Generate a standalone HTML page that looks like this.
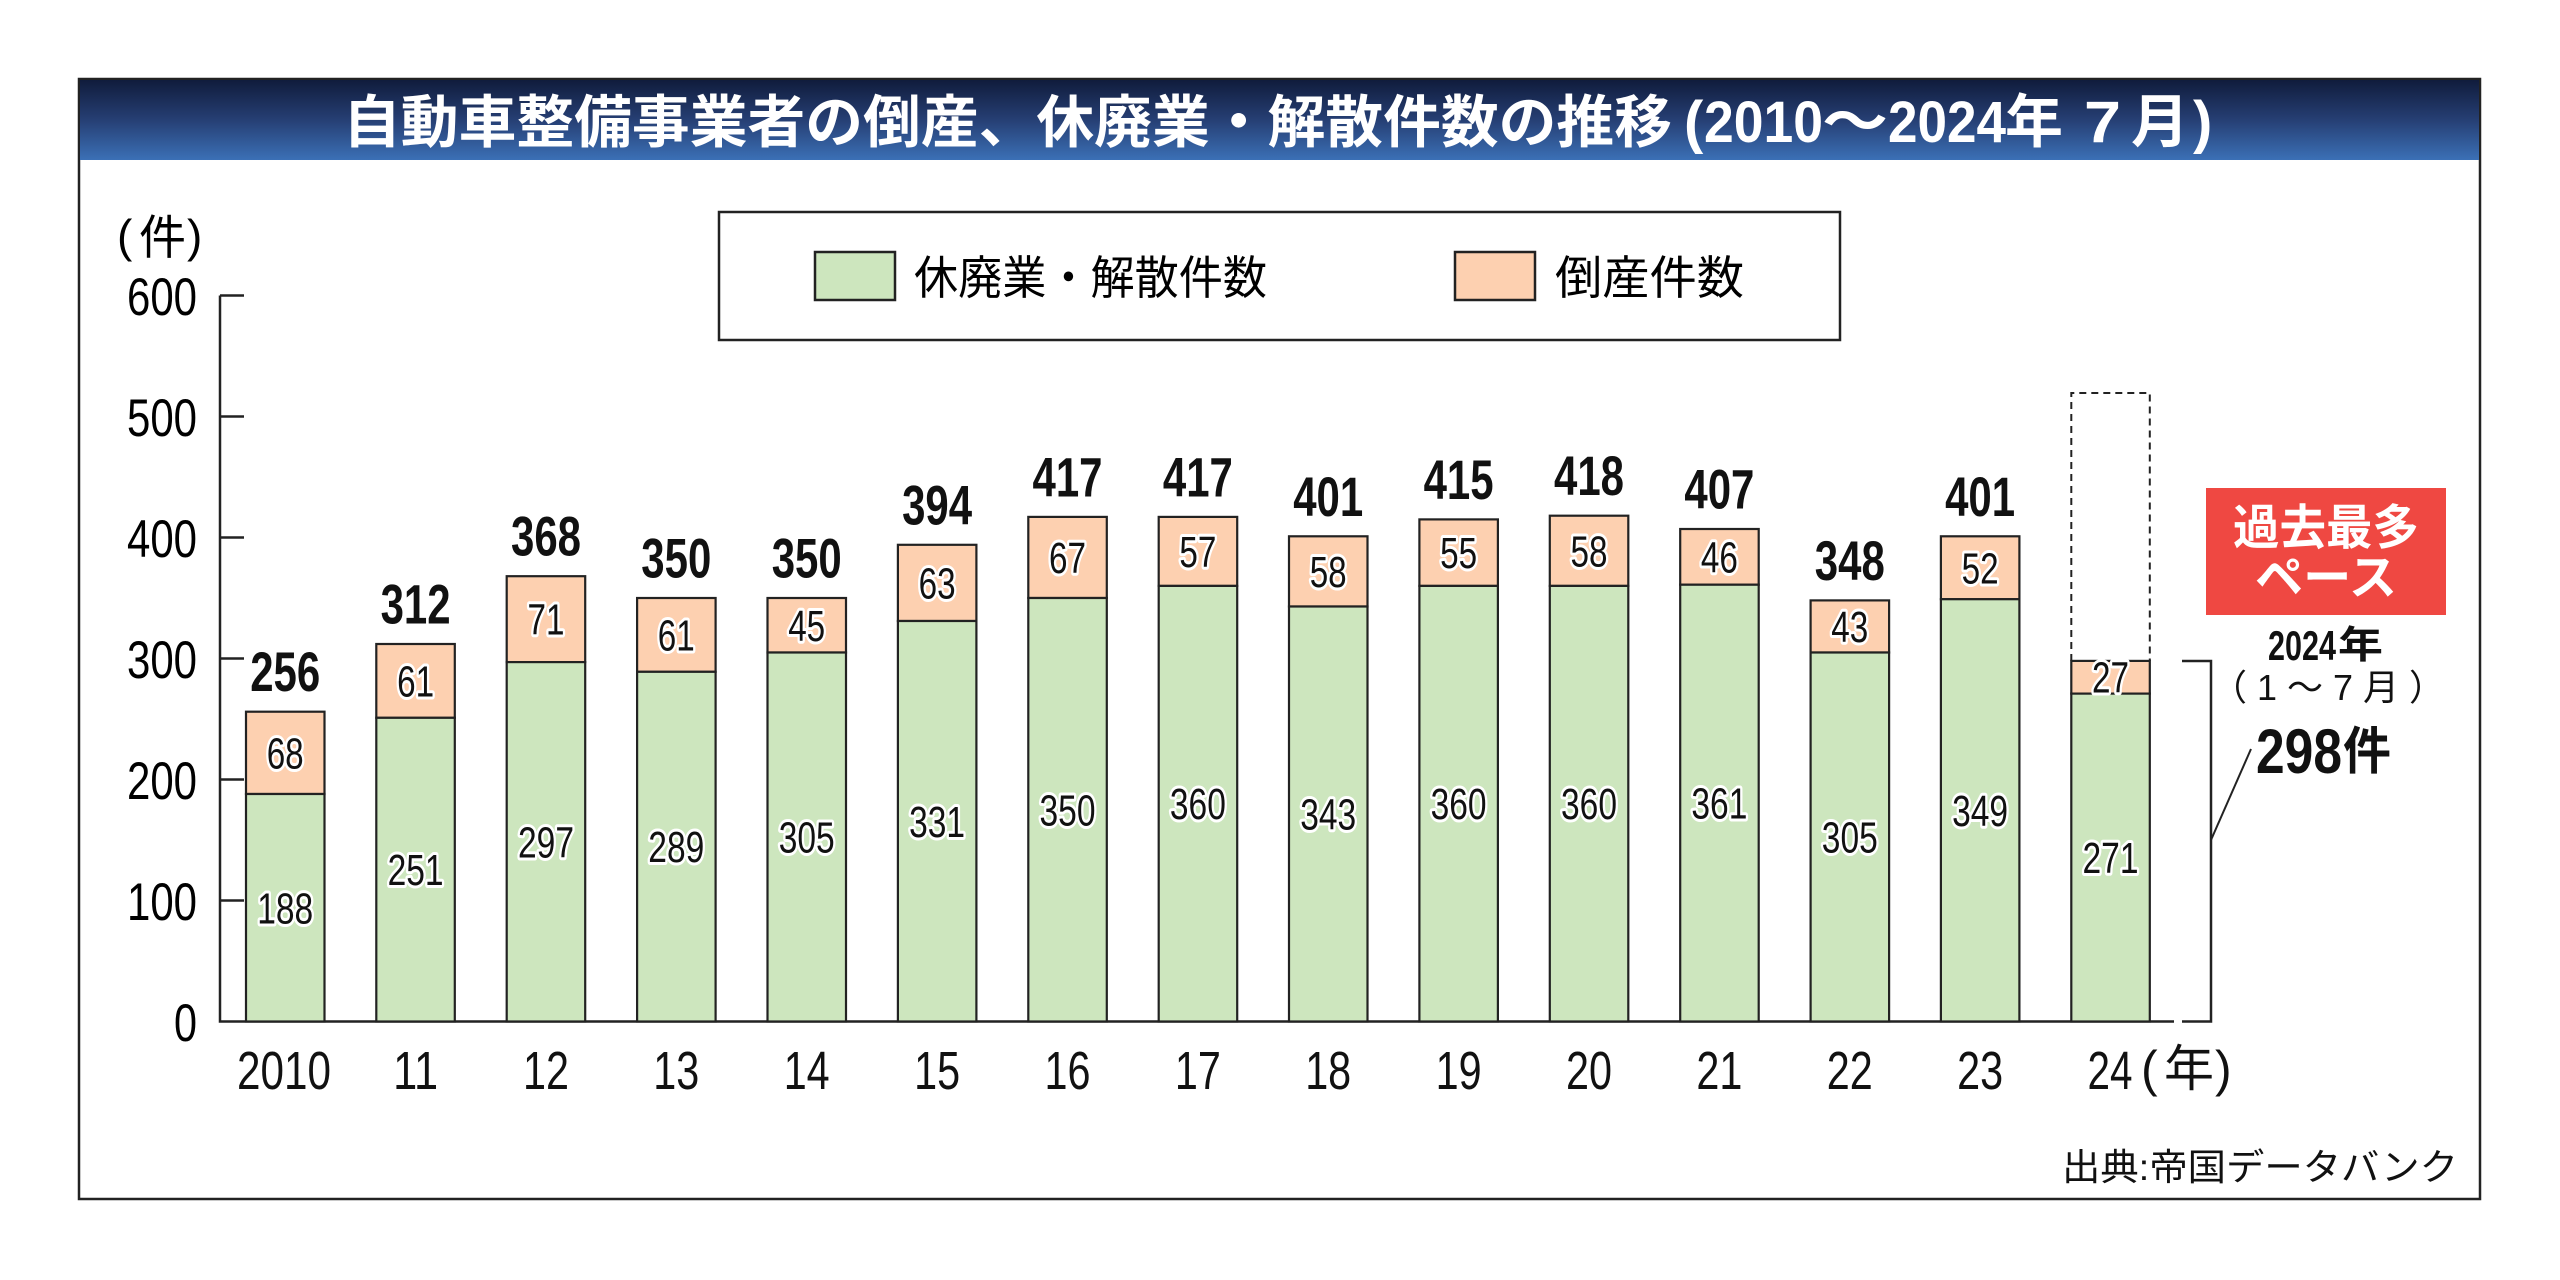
<!DOCTYPE html>
<html><head><meta charset="utf-8"><style>
html,body{margin:0;padding:0;background:#fff;}
svg{display:block;}
.num{font-family:"Liberation Sans",sans-serif;}
.jp{font-family:"Liberation Sans","Noto Sans CJK JP",sans-serif;}
</style></head><body>
<svg width="2560" height="1280" viewBox="0 0 2560 1280" xmlns="http://www.w3.org/2000/svg">
<defs>
<linearGradient id="tg" x1="0" y1="0" x2="0" y2="1">
<stop offset="0" stop-color="#101c3c"/>
<stop offset="0.5" stop-color="#263f74"/>
<stop offset="1" stop-color="#3b70b6"/>
</linearGradient>
</defs>
<rect width="2560" height="1280" fill="#fff"/>
<!-- frame -->
<rect x="79" y="79" width="2401" height="1120" fill="#fff" stroke="#222" stroke-width="2.5"/>
<rect x="80" y="80" width="2399" height="80" fill="url(#tg)"/>
<!-- title -->
<g fill="#fff" font-weight="bold">
<text class="jp" x="343" y="142" font-size="57" textLength="1329" lengthAdjust="spacingAndGlyphs">自動車整備事業者の倒産、休廃業・解散件数の推移</text>
<text class="num" x="1684" y="142" font-size="58" font-weight="bold">(</text>
<text class="num" x="1704" y="142" font-size="58" textLength="119" lengthAdjust="spacingAndGlyphs">2010</text>
<text class="jp" x="1822" y="142" font-size="58" textLength="66" lengthAdjust="spacingAndGlyphs">～</text>
<text class="num" x="1888" y="142" font-size="58" textLength="118" lengthAdjust="spacingAndGlyphs">2024</text>
<text class="jp" x="2005" y="142" font-size="58">年</text>
<text class="num" x="2084" y="142" font-size="58" textLength="37" lengthAdjust="spacingAndGlyphs">7</text>
<text class="jp" x="2131" y="142" font-size="58">月</text>
<text class="num" x="2193" y="142" font-size="58">)</text>
</g>
<!-- legend -->
<rect x="719" y="212" width="1121" height="128" fill="#fff" stroke="#222" stroke-width="2.5"/>
<rect x="815" y="252" width="80" height="48" fill="#cde6be" stroke="#222" stroke-width="2.5"/>
<rect x="1455" y="252" width="80" height="48" fill="#fdd0b0" stroke="#222" stroke-width="2.5"/>
<text class="jp" x="914" y="294" font-size="46" textLength="353" lengthAdjust="spacingAndGlyphs">休廃業・解散件数</text>
<text class="jp" x="1555" y="294" font-size="46" textLength="189" lengthAdjust="spacingAndGlyphs">倒産件数</text>
<!-- y unit -->
<text class="num" x="117" y="252" font-size="46">(</text>
<text class="jp" x="139" y="254" font-size="47">件</text>
<text class="num" x="187" y="252" font-size="46">)</text>
<!-- axes -->
<g stroke="#222" stroke-width="2.5" fill="none">
<path d="M220,295.5 V1021.5 H2174"/>
<path d="M220,295.5 H244 M220,416.5 H244 M220,537.5 H244 M220,658.5 H244 M220,779.5 H244 M220,900.5 H244"/>
<path d="M2182,661 H2211 V1021.5 H2182"/>
<path d="M2211,840 L2251,749" stroke-width="2"/>
</g>
<!-- y tick labels -->
<g class="num" font-size="53" text-anchor="end">
<text x="197" y="315" textLength="70" lengthAdjust="spacingAndGlyphs">600</text>
<text x="197" y="436" textLength="70" lengthAdjust="spacingAndGlyphs">500</text>
<text x="197" y="557" textLength="70" lengthAdjust="spacingAndGlyphs">400</text>
<text x="197" y="678" textLength="70" lengthAdjust="spacingAndGlyphs">300</text>
<text x="197" y="799" textLength="70" lengthAdjust="spacingAndGlyphs">200</text>
<text x="197" y="920" textLength="70" lengthAdjust="spacingAndGlyphs">100</text>
<text x="197" y="1041" textLength="23" lengthAdjust="spacingAndGlyphs">0</text>
</g>
<!-- dashed projection -->
<path d="M2071.3,661 V393 H2149.8 V661" fill="none" stroke="#222" stroke-width="2" stroke-dasharray="7 5"/>
<!-- bars -->
<g stroke="#222" stroke-width="2.2">
<rect x="246.0" y="711.7" width="78.5" height="82.3" fill="#fdd0b0"/><rect x="246.0" y="794.0" width="78.5" height="227.5" fill="#cde6be"/>
<rect x="376.3" y="644.0" width="78.5" height="73.8" fill="#fdd0b0"/><rect x="376.3" y="717.8" width="78.5" height="303.7" fill="#cde6be"/>
<rect x="506.7" y="576.2" width="78.5" height="85.9" fill="#fdd0b0"/><rect x="506.7" y="662.1" width="78.5" height="359.4" fill="#cde6be"/>
<rect x="637.1" y="598.0" width="78.5" height="73.8" fill="#fdd0b0"/><rect x="637.1" y="671.8" width="78.5" height="349.7" fill="#cde6be"/>
<rect x="767.5" y="598.0" width="78.5" height="54.5" fill="#fdd0b0"/><rect x="767.5" y="652.5" width="78.5" height="369.0" fill="#cde6be"/>
<rect x="897.9" y="544.8" width="78.5" height="76.2" fill="#fdd0b0"/><rect x="897.9" y="621.0" width="78.5" height="400.5" fill="#cde6be"/>
<rect x="1028.3" y="516.9" width="78.5" height="81.1" fill="#fdd0b0"/><rect x="1028.3" y="598.0" width="78.5" height="423.5" fill="#cde6be"/>
<rect x="1158.7" y="516.9" width="78.5" height="69.0" fill="#fdd0b0"/><rect x="1158.7" y="585.9" width="78.5" height="435.6" fill="#cde6be"/>
<rect x="1289.0" y="536.3" width="78.5" height="70.2" fill="#fdd0b0"/><rect x="1289.0" y="606.5" width="78.5" height="415.0" fill="#cde6be"/>
<rect x="1419.4" y="519.4" width="78.5" height="66.5" fill="#fdd0b0"/><rect x="1419.4" y="585.9" width="78.5" height="435.6" fill="#cde6be"/>
<rect x="1549.8" y="515.7" width="78.5" height="70.2" fill="#fdd0b0"/><rect x="1549.8" y="585.9" width="78.5" height="435.6" fill="#cde6be"/>
<rect x="1680.2" y="529.0" width="78.5" height="55.7" fill="#fdd0b0"/><rect x="1680.2" y="584.7" width="78.5" height="436.8" fill="#cde6be"/>
<rect x="1810.6" y="600.4" width="78.5" height="52.1" fill="#fdd0b0"/><rect x="1810.6" y="652.5" width="78.5" height="369.0" fill="#cde6be"/>
<rect x="1940.9" y="536.3" width="78.5" height="62.9" fill="#fdd0b0"/><rect x="1940.9" y="599.2" width="78.5" height="422.3" fill="#cde6be"/>
<rect x="2071.3" y="660.9" width="78.5" height="32.7" fill="#fdd0b0"/><rect x="2071.3" y="693.6" width="78.5" height="327.9" fill="#cde6be"/>
</g>
<!-- segment labels (halo) -->
<g class="num" font-size="44" text-anchor="middle" fill="#111" stroke="#fff" stroke-width="6" stroke-linejoin="round" paint-order="stroke">
<text x="285.2" y="923.3" textLength="56" lengthAdjust="spacingAndGlyphs">188</text>
<text x="415.6" y="885.2" textLength="56" lengthAdjust="spacingAndGlyphs">251</text>
<text x="546.0" y="857.3" textLength="56" lengthAdjust="spacingAndGlyphs">297</text>
<text x="676.3" y="862.2" textLength="56" lengthAdjust="spacingAndGlyphs">289</text>
<text x="806.7" y="852.5" textLength="56" lengthAdjust="spacingAndGlyphs">305</text>
<text x="937.1" y="836.8" textLength="56" lengthAdjust="spacingAndGlyphs">331</text>
<text x="1067.5" y="825.3" textLength="56" lengthAdjust="spacingAndGlyphs">350</text>
<text x="1197.9" y="819.2" textLength="56" lengthAdjust="spacingAndGlyphs">360</text>
<text x="1328.2" y="829.5" textLength="56" lengthAdjust="spacingAndGlyphs">343</text>
<text x="1458.6" y="819.2" textLength="56" lengthAdjust="spacingAndGlyphs">360</text>
<text x="1589.0" y="819.2" textLength="56" lengthAdjust="spacingAndGlyphs">360</text>
<text x="1719.4" y="818.6" textLength="56" lengthAdjust="spacingAndGlyphs">361</text>
<text x="1849.8" y="852.5" textLength="56" lengthAdjust="spacingAndGlyphs">305</text>
<text x="1980.1" y="825.9" textLength="56" lengthAdjust="spacingAndGlyphs">349</text>
<text x="2110.5" y="873.1" textLength="56" lengthAdjust="spacingAndGlyphs">271</text>
<text x="285.2" y="768.4" textLength="37" lengthAdjust="spacingAndGlyphs">68</text>
<text x="415.6" y="696.4" textLength="37" lengthAdjust="spacingAndGlyphs">61</text>
<text x="546.0" y="634.7" textLength="37" lengthAdjust="spacingAndGlyphs">71</text>
<text x="676.3" y="650.4" textLength="37" lengthAdjust="spacingAndGlyphs">61</text>
<text x="806.7" y="640.8" textLength="37" lengthAdjust="spacingAndGlyphs">45</text>
<text x="937.1" y="598.4" textLength="37" lengthAdjust="spacingAndGlyphs">63</text>
<text x="1067.5" y="573.0" textLength="37" lengthAdjust="spacingAndGlyphs">67</text>
<text x="1197.9" y="566.9" textLength="37" lengthAdjust="spacingAndGlyphs">57</text>
<text x="1328.2" y="586.9" textLength="37" lengthAdjust="spacingAndGlyphs">58</text>
<text x="1458.6" y="568.2" textLength="37" lengthAdjust="spacingAndGlyphs">55</text>
<text x="1589.0" y="566.3" textLength="37" lengthAdjust="spacingAndGlyphs">58</text>
<text x="1719.4" y="572.4" textLength="37" lengthAdjust="spacingAndGlyphs">46</text>
<text x="1849.8" y="642.0" textLength="37" lengthAdjust="spacingAndGlyphs">43</text>
<text x="1980.1" y="583.3" textLength="37" lengthAdjust="spacingAndGlyphs">52</text>
<text x="2110.5" y="692.3" textLength="37" lengthAdjust="spacingAndGlyphs">27</text>
</g>
<!-- totals -->
<g class="num" font-size="56" font-weight="bold" text-anchor="middle" fill="#111">
<text x="285.2" y="691.2" textLength="70" lengthAdjust="spacingAndGlyphs">256</text>
<text x="415.6" y="623.5" textLength="70" lengthAdjust="spacingAndGlyphs">312</text>
<text x="546.0" y="555.7" textLength="70" lengthAdjust="spacingAndGlyphs">368</text>
<text x="676.3" y="577.5" textLength="70" lengthAdjust="spacingAndGlyphs">350</text>
<text x="806.7" y="577.5" textLength="70" lengthAdjust="spacingAndGlyphs">350</text>
<text x="937.1" y="524.3" textLength="70" lengthAdjust="spacingAndGlyphs">394</text>
<text x="1067.5" y="496.4" textLength="70" lengthAdjust="spacingAndGlyphs">417</text>
<text x="1197.9" y="496.4" textLength="70" lengthAdjust="spacingAndGlyphs">417</text>
<text x="1328.2" y="515.8" textLength="70" lengthAdjust="spacingAndGlyphs">401</text>
<text x="1458.6" y="498.9" textLength="70" lengthAdjust="spacingAndGlyphs">415</text>
<text x="1589.0" y="495.2" textLength="70" lengthAdjust="spacingAndGlyphs">418</text>
<text x="1719.4" y="508.5" textLength="70" lengthAdjust="spacingAndGlyphs">407</text>
<text x="1849.8" y="579.9" textLength="70" lengthAdjust="spacingAndGlyphs">348</text>
<text x="1980.1" y="515.8" textLength="70" lengthAdjust="spacingAndGlyphs">401</text>
</g>
<!-- x labels -->
<g class="num" font-size="54" text-anchor="middle" fill="#111">
<text x="284" y="1089" textLength="94" lengthAdjust="spacingAndGlyphs">2010</text>
<text x="415.6" y="1089" textLength="45" lengthAdjust="spacingAndGlyphs">11</text>
<text x="546.0" y="1089" textLength="46" lengthAdjust="spacingAndGlyphs">12</text>
<text x="676.3" y="1089" textLength="46" lengthAdjust="spacingAndGlyphs">13</text>
<text x="806.7" y="1089" textLength="46" lengthAdjust="spacingAndGlyphs">14</text>
<text x="937.1" y="1089" textLength="46" lengthAdjust="spacingAndGlyphs">15</text>
<text x="1067.5" y="1089" textLength="46" lengthAdjust="spacingAndGlyphs">16</text>
<text x="1197.9" y="1089" textLength="46" lengthAdjust="spacingAndGlyphs">17</text>
<text x="1328.2" y="1089" textLength="46" lengthAdjust="spacingAndGlyphs">18</text>
<text x="1458.6" y="1089" textLength="46" lengthAdjust="spacingAndGlyphs">19</text>
<text x="1589.0" y="1089" textLength="46" lengthAdjust="spacingAndGlyphs">20</text>
<text x="1719.4" y="1089" textLength="46" lengthAdjust="spacingAndGlyphs">21</text>
<text x="1849.8" y="1089" textLength="46" lengthAdjust="spacingAndGlyphs">22</text>
<text x="1980.1" y="1089" textLength="46" lengthAdjust="spacingAndGlyphs">23</text>
<text x="2110" y="1089" textLength="45" lengthAdjust="spacingAndGlyphs">24</text>
</g>
<text class="num" x="2141" y="1086" font-size="50" fill="#111">(</text>
<text class="jp" x="2164" y="1086" font-size="50" fill="#111">年</text>
<text class="num" x="2215" y="1086" font-size="50" fill="#111">)</text>
<!-- red badge -->
<rect x="2206" y="488" width="240" height="127" fill="#ef4842"/>
<g class="jp" fill="#fff" font-weight="bold" text-anchor="middle">
<text x="2326" y="544" font-size="48" textLength="186" lengthAdjust="spacingAndGlyphs">過去最多</text>
<text x="2326" y="594" font-size="48" textLength="142" lengthAdjust="spacingAndGlyphs">ペース</text>
</g>
<!-- 2024 annotation -->
<text class="num" x="2268" y="660" font-size="42" font-weight="bold" fill="#111" textLength="68" lengthAdjust="spacingAndGlyphs">2024</text>
<text class="jp" x="2338" y="658" font-size="38" font-weight="bold" fill="#111" textLength="45" lengthAdjust="spacingAndGlyphs">年</text>
<text class="jp" x="2211" y="700" font-size="36" fill="#111" textLength="234" lengthAdjust="spacing">（1～7月）</text>
<text class="num" x="2256" y="773" font-size="63" font-weight="bold" fill="#111" textLength="86" lengthAdjust="spacingAndGlyphs">298</text>
<text class="jp" x="2343" y="769" font-size="51" font-weight="bold" fill="#111" textLength="48" lengthAdjust="spacingAndGlyphs">件</text>
<!-- source -->
<text class="jp" x="2062" y="1180" font-size="37" fill="#111" textLength="396" lengthAdjust="spacingAndGlyphs">出典:帝国データバンク</text>
</svg>
</body></html>
